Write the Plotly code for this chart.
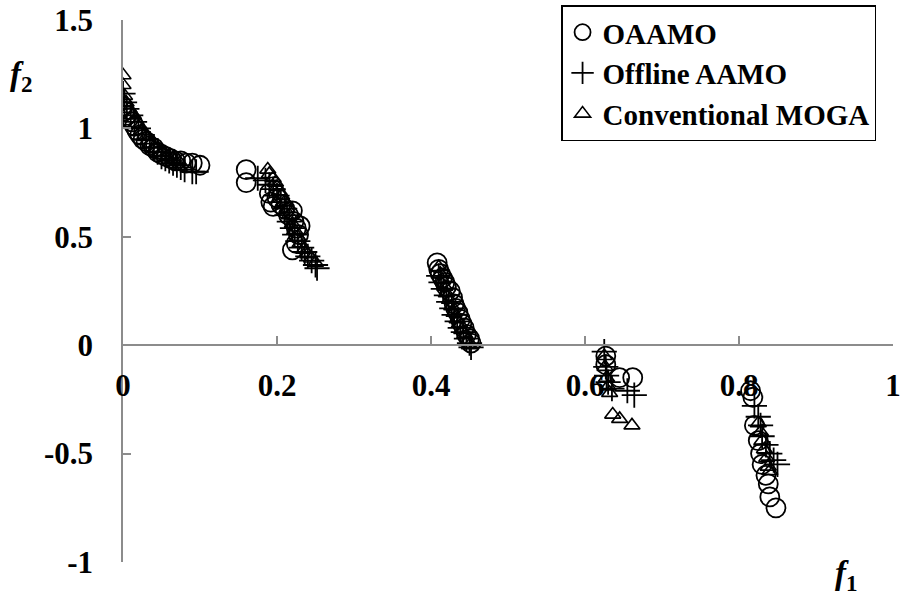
import plotly.graph_objects as go

# ---- data ----
oaamo_f1 = [0.000, 0.002, 0.005, 0.008, 0.012, 0.015, 0.018, 0.022, 0.026, 0.030, 0.035, 0.040,
            0.045, 0.050, 0.056, 0.062, 0.068, 0.075, 0.082, 0.090, 0.100,
            0.160, 0.160, 0.190, 0.192, 0.195, 0.200, 0.205, 0.210, 0.215, 0.220, 0.222, 0.225,
            0.228, 0.230, 0.225, 0.220,
            0.408, 0.410, 0.412, 0.415, 0.418, 0.420, 0.425, 0.428, 0.430, 0.432, 0.435, 0.438,
            0.440, 0.443, 0.446, 0.450, 0.452,
            0.627, 0.627, 0.645, 0.662,
            0.815, 0.818, 0.820, 0.825, 0.828, 0.830, 0.835, 0.838, 0.840, 0.848]
oaamo_f2 = [1.10, 1.08, 1.06, 1.05, 1.03, 1.01, 0.99, 0.97, 0.95, 0.94, 0.92, 0.91,
            0.89, 0.88, 0.87, 0.86, 0.85, 0.85, 0.84, 0.84, 0.83,
            0.81, 0.75, 0.70, 0.66, 0.64, 0.68, 0.65, 0.63, 0.60, 0.62, 0.57, 0.54,
            0.51, 0.55, 0.47, 0.44,
            0.38, 0.35, 0.33, 0.31, 0.29, 0.27, 0.25, 0.22, 0.19, 0.17, 0.15, 0.12,
            0.10, 0.08, 0.05, 0.03, 0.01,
            -0.05, -0.09, -0.15, -0.15,
            -0.21, -0.24, -0.37, -0.44, -0.50, -0.55, -0.60, -0.64, -0.70, -0.75]

offline_f1 = [0.000, 0.002, 0.005, 0.010, 0.015, 0.020, 0.025, 0.030, 0.035, 0.040, 0.045, 0.050,
              0.055, 0.060, 0.065, 0.070, 0.075, 0.080, 0.090, 0.095,
              0.175, 0.185, 0.190, 0.195, 0.200, 0.205, 0.210, 0.213, 0.216, 0.220, 0.223, 0.227,
              0.232, 0.236, 0.240, 0.245, 0.250, 0.252,
              0.410, 0.413, 0.416, 0.420, 0.423, 0.427, 0.430, 0.434, 0.438, 0.442, 0.446, 0.450, 0.452,
              0.625, 0.627, 0.628, 0.630, 0.635, 0.655, 0.664,
              0.820, 0.825, 0.828, 0.830, 0.835, 0.840, 0.845, 0.850]
offline_f2 = [1.16, 1.12, 1.09, 1.06, 1.03, 1.00, 0.97, 0.95, 0.93, 0.91, 0.89, 0.87,
              0.86, 0.85, 0.84, 0.83, 0.82, 0.81, 0.80, 0.80,
              0.77, 0.76, 0.74, 0.72, 0.69, 0.66, 0.63, 0.60, 0.57, 0.54, 0.51, 0.48,
              0.45, 0.43, 0.41, 0.39, 0.37, 0.355,
              0.32, 0.29, 0.26, 0.23, 0.20, 0.17, 0.14, 0.11, 0.08, 0.06, 0.03, 0.01, -0.01,
              -0.03, -0.10, -0.14, -0.17, -0.20, -0.21, -0.23,
              -0.28, -0.33, -0.37, -0.42, -0.46, -0.50, -0.53, -0.55]

moga_f1 = [0.000, 0.000, 0.002, 0.004, 0.008, 0.012, 0.018, 0.024, 0.030, 0.036, 0.042, 0.050,
           0.058, 0.065, 0.072,
           0.188, 0.190, 0.195, 0.198, 0.200, 0.203, 0.206, 0.210, 0.213, 0.216, 0.220, 0.223,
           0.227, 0.230, 0.235, 0.240, 0.245, 0.250,
           0.410, 0.412, 0.415, 0.418, 0.420, 0.424, 0.427, 0.430, 0.434, 0.437, 0.440, 0.444,
           0.448, 0.450,
           0.625, 0.626, 0.628, 0.630, 0.632, 0.636, 0.645, 0.661,
           0.825, 0.828, 0.830, 0.833, 0.836, 0.838, 0.840]
moga_f2 = [1.245, 1.20, 1.15, 1.12, 1.09, 1.06, 1.02, 0.99, 0.96, 0.93, 0.91, 0.89,
           0.87, 0.86, 0.85,
           0.81, 0.79, 0.77, 0.75, 0.73, 0.71, 0.69, 0.66, 0.63, 0.60, 0.56, 0.53,
           0.50, 0.47, 0.44, 0.42, 0.40, 0.38,
           0.36, 0.33, 0.30, 0.27, 0.24, 0.21, 0.18, 0.15, 0.12, 0.10, 0.07, 0.05,
           0.02, 0.00,
           -0.05, -0.10, -0.15, -0.19, -0.22, -0.32, -0.34, -0.37,
           -0.36, -0.40, -0.44, -0.48, -0.52, -0.56, -0.58]

x_ticks = [0, 0.2, 0.4, 0.6, 0.8, 1]
x_labels = ["0", "0.2", "0.4", "0.6", "0.8", "1"]
y_ticks = [-1, -0.5, 0, 0.5, 1, 1.5]
y_labels = ["-1", "-0.5", "0", "0.5", "1", "1.5"]

FONT = "Liberation Serif"
AXIS_GREY = "#8c8c8c"

fig = go.Figure()
fig.add_trace(go.Scatter(
    x=oaamo_f1, y=oaamo_f2, mode="markers", name="OAAMO",
    marker=dict(symbol="circle-open", size=19, color="black", line=dict(width=1.8, color="black"))))
fig.add_trace(go.Scatter(
    x=offline_f1, y=offline_f2, mode="markers", name="Offline AAMO",
    marker=dict(symbol="cross-thin-open", size=18, color="black", line=dict(width=1.8, color="black"))))
fig.add_trace(go.Scatter(
    x=moga_f1, y=moga_f2, mode="markers", name="Conventional MOGA",
    marker=dict(symbol="triangle-up-open", size=14, color="black", line=dict(width=1.6, color="black"))))

fig.update_layout(
    width=902, height=597,
    margin=dict(l=123, r=9, t=20, b=35, pad=0, autoexpand=False),
    paper_bgcolor="white", plot_bgcolor="white",
    font=dict(family=FONT, color="black"),
    showlegend=True,
    legend=dict(
        x=0.978, y=1.027, xanchor="right", yanchor="top",
        bgcolor="white", bordercolor="black", borderwidth=1.5,
        font=dict(family=FONT, size=29, color="black", weight="bold"),
        itemwidth=30, tracegroupgap=0,
    ),
    xaxis=dict(
        range=[0, 1], tickmode="array", tickvals=x_ticks, ticktext=x_labels,
        showgrid=False, zeroline=False, showline=True, linecolor=AXIS_GREY, linewidth=1.5,
        ticks="inside", ticklen=8, tickwidth=1.5, tickcolor=AXIS_GREY,
        anchor="free", position=0.4, ticklabelstandoff=13,
        tickfont=dict(family=FONT, size=31, color="black", weight="bold"),
    ),
    yaxis=dict(
        range=[-1, 1.5], tickmode="array", tickvals=y_ticks, ticktext=y_labels,
        showgrid=False, zeroline=False, showline=True, linecolor=AXIS_GREY, linewidth=1.5,
        ticks="inside", ticklen=8, tickwidth=1.5, tickcolor=AXIS_GREY,
        ticklabelstandoff=22,
        tickfont=dict(family=FONT, size=31, color="black", weight="bold"),
    ),
    annotations=[
        dict(text="<i>f</i><sub>2</sub>", xref="paper", yref="paper", x=-0.132, y=0.895,
             showarrow=False, xanchor="center", yanchor="middle",
             font=dict(family=FONT, size=33, color="black", weight="bold")),
        dict(text="<i>f</i><sub>1</sub>", xref="paper", yref="paper", x=0.94, y=-0.025,
             showarrow=False, xanchor="center", yanchor="middle",
             font=dict(family=FONT, size=33, color="black", weight="bold")),
    ],
)

fig.write_html("out.html")
